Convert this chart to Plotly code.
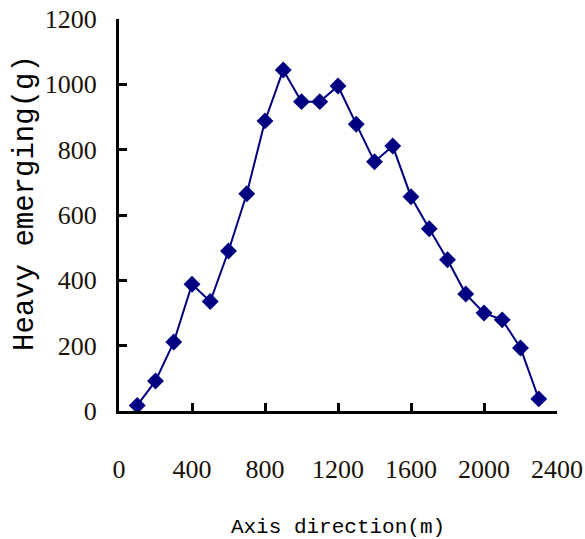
import plotly.graph_objects as go

distance_m = [100, 200, 300, 400, 500, 600, 700, 800, 900, 1000, 1100, 1200,
              1300, 1400, 1500, 1600, 1700, 1800, 1900, 2000, 2100, 2200, 2300]
heavy_g = [17, 92, 211, 388, 335, 490, 665, 888, 1044, 947, 947, 995,
           878, 763, 811, 656, 558, 463, 358, 300, 279, 193, 37]

x_ticks = [0, 400, 800, 1200, 1600, 2000, 2400]
y_ticks = [0, 200, 400, 600, 800, 1000, 1200]

navy = "#000080"

fig = go.Figure()
fig.add_trace(go.Scatter(
    x=distance_m, y=heavy_g, mode="lines+markers",
    line=dict(color=navy, width=2),
    marker=dict(symbol="diamond", size=13, color=navy),
    showlegend=False,
))

tick_font = dict(family="Liberation Serif", size=26, color="#1a1208")

fig.update_layout(
    width=585, height=539,
    margin=dict(l=119, r=28, t=19, b=128),
    paper_bgcolor="white", plot_bgcolor="white",
    xaxis=dict(
        range=[0, 2400], tickvals=x_ticks, ticktext=[str(v) for v in x_ticks],
        showline=True, linecolor="black", linewidth=3,
        ticks="inside", ticklen=8, tickwidth=2.5, tickcolor="black",
        showgrid=False, zeroline=False, tickfont=tick_font,
        ticklabelstandoff=33, automargin=False,
        title=dict(text="Axis direction(m)",
                   font=dict(family="Liberation Mono", size=21, color="black"),
                   standoff=40),
    ),
    yaxis=dict(
        range=[0, 1200], tickvals=y_ticks, ticktext=[str(v) for v in y_ticks],
        showline=True, linecolor="black", linewidth=3,
        ticks="inside", ticklen=8, tickwidth=2.5, tickcolor="black",
        showgrid=False, zeroline=False, tickfont=tick_font,
        ticklabelstandoff=14, automargin=False,
    ),
    annotations=[dict(
        text="Heavy emerging(g)", textangle=-90, showarrow=False,
        xref="paper", yref="paper", x=-0.2146, y=0.5306,
        xanchor="center", yanchor="middle",
        font=dict(family="Liberation Mono", size=29, color="black"),
    )],
)

fig.write_html("out.html")
